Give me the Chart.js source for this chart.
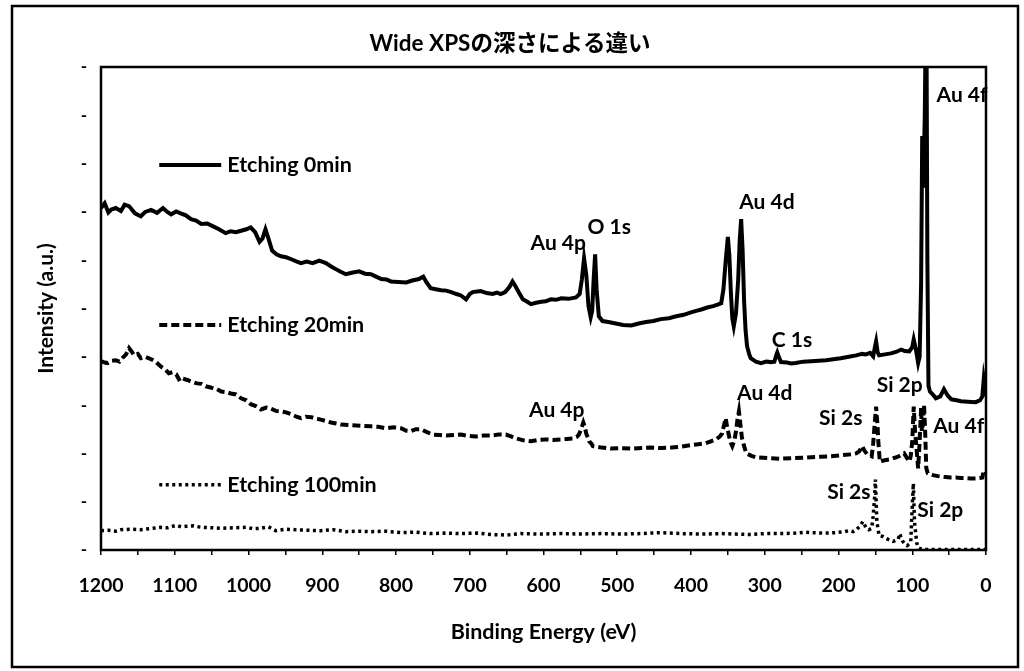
<!DOCTYPE html>
<html><head><meta charset="utf-8">
<script src="https://cdn.jsdelivr.net/npm/chart.js@4.4.0/dist/chart.umd.min.js"></script>
<style>html,body{margin:0;padding:0;background:#fff;}</style>
</head><body>
<canvas id="c" width="1024" height="671"></canvas>
<script>
const chartTitle = 'Wide XPSの深さによる違い';
const xAxisTitle = 'Binding Energy (eV)';
const yAxisTitle = 'Intensity (a.u.)';
const seriesNames = ['Etching 0min', 'Etching 20min', 'Etching 100min'];

const energy0 = [1200,1195,1190,1186,1180,1173,1168,1162,1154,1146,1140,1132,1124,1116,1110,1105,1098,1092,1085,1078,1071,1064,1056,1048,1040,1031,1024,1017,1010,1003,997,991,985,981,977,973,968,962,956,949,942,936,929,921,913,904,895,888,881,875,868,860,850,842,834,827,820,813,807,797,786,778,769,763,759,753,746,739,732,725,718,712,705,700,696,690,685,677,669,663,658,652,646,642,638,633,628,622,617,610,603,597,590,583,576,566,556,551,548,545,542,539,536,534,532,530,528,525,520,512,502,492,481,471,461,451,441,430,420,410,400,393,386,378,370,364,359,356,353,350,348,346,344,342,339,336,334,332,330,328,326,324,321,319,312,305,298,292,287,284,283,281,278,270,264,258,248,237,227,217,207,197,186,176,168,163,157,153,150,149,147,145,137,129,122,115,110,104,100,98,95,92,90,88,86.5,85,83,81,79.5,78,76,72,68,62,57,52,47,40,34,25,14,8,5,3,1.5,0];
const intensity0 = [7.08,7.18,6.99,7.05,7.08,7.02,7.15,7.12,6.97,6.91,7.00,7.04,6.98,7.08,7.00,6.95,7.01,6.97,6.93,6.85,6.82,6.75,6.76,6.70,6.64,6.56,6.60,6.58,6.61,6.64,6.68,6.58,6.38,6.45,6.64,6.45,6.20,6.12,6.08,6.06,6.02,5.98,5.94,5.97,5.94,5.99,5.94,5.87,5.81,5.76,5.71,5.74,5.77,5.72,5.71,5.66,5.61,5.60,5.56,5.55,5.54,5.58,5.61,5.66,5.55,5.42,5.40,5.38,5.37,5.34,5.30,5.27,5.19,5.30,5.34,5.35,5.36,5.32,5.30,5.33,5.30,5.34,5.45,5.56,5.46,5.32,5.19,5.14,5.09,5.12,5.14,5.15,5.19,5.18,5.21,5.20,5.23,5.30,5.60,6.04,5.70,5.05,4.82,4.95,5.60,6.12,5.40,4.84,4.74,4.72,4.69,4.66,4.65,4.69,4.72,4.74,4.78,4.80,4.84,4.87,4.92,4.95,4.98,5.02,5.05,5.08,5.11,5.40,5.98,6.48,6.10,5.36,4.80,4.63,4.90,5.60,6.40,6.85,6.20,5.15,4.55,4.22,4.05,3.97,3.90,3.87,3.90,3.89,3.90,4.05,4.09,4.00,3.89,3.88,3.86,3.87,3.90,3.91,3.92,3.93,3.95,3.97,4.00,4.03,4.06,4.05,4.08,4.01,4.25,4.32,4.10,4.03,4.05,4.07,4.10,4.15,4.12,4.11,4.20,4.36,4.15,3.87,4.00,5.50,8.57,7.50,9.00,12.0,6.00,3.40,3.28,3.22,3.14,3.18,3.33,3.20,3.12,3.10,3.08,3.07,3.06,3.10,3.18,3.55,3.40,3.18];

const energy20 = [1200,1195,1191,1185,1180,1175,1170,1166,1162,1158,1155,1150,1146,1140,1132,1126,1119,1113,1108,1103,1098,1093,1089,1083,1078,1070,1064,1058,1050,1044,1037,1030,1024,1017,1010,1003,997,990,983,976,970,963,956,949,942,935,929,922,915,908,902,895,888,881,875,864,854,844,834,824,814,803,793,786,780,773,766,758,750,741,732,722,712,702,692,681,671,661,651,644,637,627,617,607,597,587,576,568,560,555,552,549,546,544,542,540,538,535,533,521,509,495,481,467,454,440,427,413,400,390,380,373,366,361,358,355,353,351,348,346,344,341,339,337,335,333,331,328,325,318,312,302,292,278,264,250,237,224,210,197,183,176,172,168,165,161,158,155,153,151,149,147,146,144,137,129,122,118,114,111,107,104,102,100,98,96,95,92,90,88,87,85.5,84,82.5,81,79,72,65,61,55,48,41,34,27,20,14,8,5,3,1.5,0];
const intensity20 = [3.91,3.88,3.87,3.92,3.93,3.90,3.99,4.05,4.18,4.10,4.03,4.06,3.97,4.00,3.95,3.90,3.80,3.74,3.66,3.68,3.64,3.50,3.55,3.52,3.49,3.45,3.44,3.39,3.36,3.34,3.28,3.27,3.24,3.22,3.14,3.10,3.02,2.98,2.91,2.95,2.93,2.88,2.87,2.85,2.81,2.76,2.73,2.76,2.75,2.72,2.70,2.67,2.64,2.62,2.60,2.59,2.58,2.57,2.56,2.55,2.52,2.54,2.52,2.47,2.46,2.50,2.50,2.44,2.39,2.38,2.37,2.38,2.39,2.36,2.35,2.37,2.37,2.39,2.39,2.35,2.31,2.27,2.25,2.28,2.29,2.28,2.29,2.30,2.31,2.34,2.39,2.50,2.64,2.55,2.41,2.33,2.25,2.20,2.15,2.12,2.10,2.11,2.10,2.11,2.12,2.11,2.12,2.14,2.17,2.19,2.21,2.25,2.29,2.35,2.41,2.60,2.73,2.55,2.33,2.22,2.15,2.28,2.46,2.70,2.87,2.60,2.33,2.15,2.00,1.95,1.92,1.91,1.90,1.89,1.90,1.91,1.92,1.93,1.94,1.96,1.98,2.00,2.04,2.15,2.06,1.98,1.96,1.94,2.20,2.60,2.97,2.55,2.25,1.83,1.86,1.88,1.92,1.94,1.98,2.00,1.90,1.83,1.95,2.25,2.97,2.40,2.25,1.69,2.25,2.95,2.46,2.60,3.01,2.45,1.70,1.59,1.55,1.53,1.52,1.51,1.50,1.50,1.49,1.49,1.48,1.48,1.49,1.50,1.65,1.62,1.59];

const energy100 = [1200,1190,1180,1173,1160,1146,1135,1119,1110,1098,1091,1085,1075,1064,1050,1037,1020,1003,993,983,973,963,950,936,920,902,885,868,850,834,815,793,775,753,735,712,690,671,650,631,603,576,550,522,495,468,441,414,386,359,340,319,300,278,258,245,237,220,203,192,186,180,176,171,167,163,159,155,153,151,150,148,145,140,136,131,126,122,119,117,115,113,110,107,104,102,100,98.5,97,94,92,88,85,70,50,30,10,0];
const intensity100 = [0.40,0.41,0.39,0.42,0.43,0.42,0.44,0.47,0.46,0.51,0.48,0.49,0.50,0.47,0.46,0.45,0.46,0.47,0.44,0.45,0.48,0.40,0.43,0.42,0.41,0.40,0.42,0.38,0.39,0.38,0.39,0.36,0.37,0.34,0.35,0.34,0.35,0.32,0.31,0.34,0.33,0.34,0.33,0.34,0.33,0.34,0.36,0.34,0.33,0.34,0.33,0.32,0.34,0.34,0.35,0.37,0.36,0.35,0.36,0.38,0.40,0.38,0.42,0.49,0.59,0.47,0.42,0.45,0.70,1.10,1.46,0.59,0.30,0.28,0.24,0.21,0.18,0.20,0.22,0.34,0.25,0.18,0.13,0.09,0.12,0.18,0.90,1.38,0.59,0.15,0.05,0.02,0.01,0.01,0.01,0.01,0.01,0.01];

const peakLabels    = ['Au 4f','Au 4p','O 1s','Au 4d','C 1s','Au 4p','Au 4d','Si 2p','Si 2s','Au 4f','Si 2s','Si 2p'];
const peakEnergy    = [32.5, 580, 511, 297, 263, 582, 300, 117, 197, 37, 186, 62];
const peakIntensity = [9.42, 6.36, 6.69, 7.20, 4.35, 2.90, 3.25, 3.42, 2.73, 2.57, 1.20, 0.83];

const legendIntensity = [7.97, 4.66, 1.35];
const legendEnergyStart = 1121;
const legendEnergyEnd = 1037;

const xMin = 0, xMax = 1200, xStep = 50, xLabelStep = 100;
const yMin = 0, yMax = 10, yStep = 1;

function pts(ex, iy) { return ex.map((e, i) => ({x: e, y: iy[i]})); }

const FONT = 'Lato, "Noto Sans CJK JP", sans-serif';
Chart.defaults.font.family = FONT;
Chart.defaults.color = '#000';

const decor = {
  id: 'decor',
  afterDraw(chart) {
    const {ctx, chartArea: a, scales: {x, y}} = chart;
    ctx.save();
    ctx.strokeStyle = '#000';
    ctx.setLineDash([]);
    ctx.lineWidth = 2.5;
    ctx.strokeRect(a.left, a.top, a.right - a.left, a.bottom - a.top);
    ctx.strokeRect(12, 6, 1006, 661);
    ctx.fillStyle = '#000';
    ctx.font = 'bold 21px ' + FONT;
    ctx.textAlign = 'center';
    ctx.textBaseline = 'middle';
    peakLabels.forEach((t, i) => {
      ctx.fillText(t, x.getPixelForValue(peakEnergy[i]), y.getPixelForValue(peakIntensity[i]));
    });
    ctx.font = 'bold 21.5px ' + FONT;
    chart.data.datasets.forEach((ds, i) => {
      const yy = y.getPixelForValue(legendIntensity[i]);
      const x1 = x.getPixelForValue(legendEnergyStart);
      const x2 = x.getPixelForValue(legendEnergyEnd);
      ctx.beginPath();
      ctx.lineWidth = ds.borderWidth;
      ctx.setLineDash(ds.borderDash || []);
      ctx.moveTo(x1, yy); ctx.lineTo(x2, yy); ctx.stroke();
      ctx.setLineDash([]);
      ctx.textAlign = 'left';
      ctx.fillText(ds.label, x2 + 6, yy);
    });
    ctx.restore();
  }
};

new Chart(document.getElementById('c'), {
  type: 'line',
  data: {
    datasets: [
      {label: seriesNames[0], data: pts(energy0, intensity0), borderColor: '#000', borderWidth: 4, borderDash: [], pointRadius: 0, tension: 0},
      {label: seriesNames[1], data: pts(energy20, intensity20), borderColor: '#000', borderWidth: 4, borderDash: [8, 4], pointRadius: 0, tension: 0},
      {label: seriesNames[2], data: pts(energy100, intensity100), borderColor: '#000', borderWidth: 3.5, borderDash: [3, 3.5], pointRadius: 0, tension: 0}
    ]
  },
  options: {
    responsive: false,
    animation: false,
    devicePixelRatio: 1,
    layout: {padding: {left: 34, right: 38, top: 0, bottom: 0}},
    plugins: {
      legend: {display: false},
      tooltip: {enabled: false},
      title: {display: true, text: chartTitle, color: '#000', font: {size: 22.5, weight: 'bold'}, padding: {top: 30, bottom: 10}}
    },
    scales: {
      x: {
        type: 'linear', reverse: true, min: xMin, max: xMax,
        border: {display: false},
        grid: {drawOnChartArea: false, drawTicks: true, tickLength: 5, color: '#000', lineWidth: 1.5},
        ticks: {stepSize: xStep, autoSkip: false, maxRotation: 0, padding: 19, font: {size: 19.5, weight: 'bold'}, color: '#000',
          callback: v => (v % xLabelStep === 0 ? String(v) : '')},
        title: {display: true, text: xAxisTitle, color: '#000', font: {size: 21.5, weight: 'bold'}, padding: {top: 0, bottom: 26}},
        afterFit(s) { s.height = 121; s.paddingLeft = 0; s.paddingRight = 0; }
      },
      y: {
        min: yMin, max: yMax,
        border: {display: false},
        grid: {display: false, drawTicks: false},
        ticks: {stepSize: yStep, autoSkip: false, padding: 14, font: {size: 17, weight: 'bold'}, color: '#000', callback: () => '-'},
        title: {display: true, text: yAxisTitle, color: '#000', font: {size: 21, weight: 'bold'}, padding: {top: 0, bottom: 0}},
        afterFit(s) { s.width = 67; s.paddingTop = 0; s.paddingBottom = 0; }
      }
    }
  },
  plugins: [decor]
});
</script>
</body></html>
